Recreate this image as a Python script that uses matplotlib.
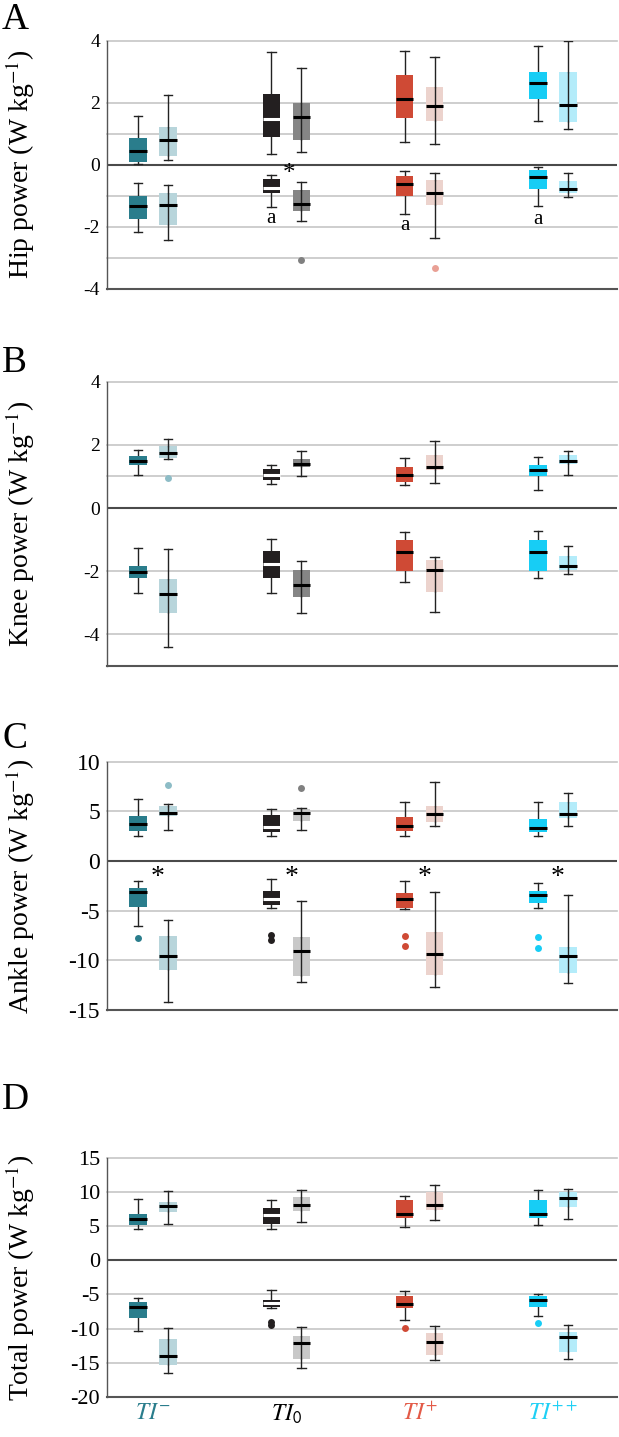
"""Joint power box plots (hip, knee, ankle, total) for the four TI groups."""

import matplotlib
matplotlib.use("Agg")
import matplotlib.pyplot as plt

plt.rcParams["font.family"] = ["Liberation Serif", "DejaVu Serif"]
plt.rcParams["mathtext.fontset"] = "stix"
plt.rcParams["axes.unicode_minus"] = False

GROUPS = ["TI-", "TI0", "TI+", "TI++"]
TICK_LABELS = [r"$TI^{-}$", r"$TI_{\mathsf{0}}$", r"$TI^{+}$", r"$TI^{++}$"]

# box stats per group: [whislo, q1, med, q3, whishi]
HIP_POS_DARK = [[0.02, 0.10, 0.43, 0.85, 1.58], [0.35, 0.88, 1.48, 2.27, 3.62],
                [0.72, 1.50, 2.13, 2.88, 3.65], [1.40, 2.10, 2.63, 3.00, 3.82]]
HIP_POS_LIGHT = [[0.15, 0.28, 0.78, 1.22, 2.25], [0.42, 0.80, 1.55, 2.00, 3.13],
                 [0.65, 1.40, 1.88, 2.50, 3.47], [1.15, 1.38, 1.92, 3.00, 4.00]]
HIP_NEG_DARK = [[-2.18, -1.75, -1.35, -1.00, -0.60], [-1.38, -0.92, -0.75, -0.45, -0.35],
                [-1.60, -1.00, -0.62, -0.38, -0.20], [-1.33, -0.80, -0.40, -0.18, -0.08]]
HIP_NEG_LIGHT = [[-2.43, -1.95, -1.30, -0.90, -0.65], [-1.82, -1.50, -1.27, -0.82, -0.57],
                 [-2.38, -1.30, -0.90, -0.50, -0.27], [-1.06, -0.90, -0.80, -0.52, -0.28]]
HIP_NEG_LIGHT_FLIERS = [[], [-3.06], [-3.32], []]

KNEE_POS_DARK = [[1.06, 1.36, 1.50, 1.65, 1.84], [0.75, 0.88, 1.06, 1.23, 1.37],
                 [0.72, 0.82, 1.06, 1.29, 1.60], [0.56, 1.00, 1.20, 1.37, 1.63]]
KNEE_POS_LIGHT = [[1.55, 1.60, 1.75, 1.95, 2.20], [1.02, 1.29, 1.41, 1.55, 1.80],
                  [0.80, 1.22, 1.31, 1.68, 2.13], [1.06, 1.39, 1.48, 1.69, 1.80]]
KNEE_POS_LIGHT_FLIERS = [[0.96], [], [], []]
KNEE_NEG_DARK = [[-2.68, -2.23, -2.03, -1.85, -1.28], [-2.70, -2.21, -1.79, -1.37, -0.98],
                 [-2.33, -2.00, -1.39, -1.01, -0.75], [-2.23, -2.00, -1.39, -1.00, -0.73]]
KNEE_NEG_LIGHT = [[-4.39, -3.34, -2.73, -2.24, -1.31], [-3.33, -2.82, -2.44, -1.95, -1.69],
                  [-3.29, -2.66, -1.97, -1.65, -1.55], [-2.10, -1.96, -1.83, -1.52, -1.19]]

ANKLE_POS_DARK = [[2.52, 3.05, 3.69, 4.53, 6.20], [2.50, 2.89, 3.46, 4.63, 5.20],
                  [2.50, 2.99, 3.52, 4.46, 5.90], [2.50, 2.90, 3.36, 4.19, 5.90]]
ANKLE_POS_LIGHT = [[3.15, 4.56, 4.87, 5.54, 5.74], [3.10, 4.06, 4.80, 5.20, 5.37],
                   [3.56, 3.93, 4.73, 5.57, 7.99], [3.52, 4.30, 4.77, 5.90, 6.88]]
ANKLE_POS_LIGHT_FLIERS = [[7.65], [7.35], [], []]
ANKLE_NEG_DARK = [[-6.54, -4.60, -3.12, -2.72, -2.01], [-4.77, -4.46, -3.80, -3.05, -1.78],
                  [-4.80, -4.70, -3.86, -3.26, -2.05], [-4.70, -4.19, -3.46, -2.99, -2.25]]
ANKLE_NEG_DARK_FLIERS = [[-7.79], [-7.45, -7.95], [-7.52, -8.56], [-7.65, -8.72]]
ANKLE_NEG_LIGHT = [[-14.23, -10.97, -9.53, -7.55, -5.94], [-12.21, -11.58, -9.03, -7.62, -4.03],
                   [-12.65, -11.44, -9.36, -7.11, -3.09], [-12.32, -11.24, -9.53, -8.62, -3.39]]

TOTAL_POS_DARK = [[4.55, 5.20, 6.00, 6.80, 9.00], [4.50, 5.25, 6.60, 7.60, 8.80],
                  [4.80, 6.20, 6.80, 8.80, 9.40], [5.10, 6.20, 6.80, 8.80, 10.30]]
TOTAL_POS_LIGHT = [[5.35, 7.10, 7.95, 8.50, 10.10], [5.55, 7.20, 8.00, 9.20, 10.30],
                   [5.90, 7.40, 8.10, 9.90, 11.00], [6.00, 7.80, 9.10, 9.90, 10.40]]
TOTAL_NEG_DARK = [[-10.30, -8.45, -6.80, -6.10, -5.60], [-7.05, -6.90, -6.30, -5.85, -4.30],
                  [-8.80, -7.05, -6.40, -5.25, -4.45], [-8.20, -6.90, -5.80, -5.25, -5.00]]
TOTAL_NEG_DARK_FLIERS = [[], [-9.0, -9.5], [-9.85], [-9.25]]
TOTAL_NEG_LIGHT = [[-16.50, -15.35, -14.05, -11.45, -9.85], [-15.80, -14.40, -12.15, -11.10, -9.70],
                   [-14.55, -13.80, -11.95, -10.65, -9.55], [-14.40, -13.45, -11.25, -10.50, -9.50]]

NONE4 = [[], [], [], []]

DARK = ["#2a7d8c", "#231f20", "#cf4a35", "#17cdf5"]
LIGHT = ["#b8d5db", "#858585", "#ecd3cd", "#b4ecfa"]
LIGHT_CD = ["#b8d5db", "#c8c8c8", "#ecd3cd", "#b4ecfa"]
LIGHT_FLIER = ["#8dbcc6", "#808080", "#e9a095", "#8fe3f7"]
MED_DARK = ["black", "white", "black", "black"]
LABEL_COLORS = ["#2a7d8c", "black", "#e35a47", "#1fd0f5"]
WHISK = "#222222"

BOX_W = 0.13
CAP_W = 0.065
OFFSET = 0.1125


def as_stats(rows, fliers):
    return [dict(whislo=r[0], q1=r[1], med=r[2], q3=r[3], whishi=r[4], fliers=f)
            for r, f in zip(rows, fliers)]


def draw(ax, rows, fliers, light, faces):
    for i, st in enumerate(as_stats(rows, fliers)):
        pos = i + 1 + (OFFSET if light else -OFFSET)
        fc = LIGHT_FLIER[i] if light else DARK[i]
        ax.bxp([st], positions=[pos], widths=BOX_W, capwidths=CAP_W,
               patch_artist=True, manage_ticks=False,
               boxprops=dict(facecolor=faces[i], edgecolor="none", lw=0,
                             zorder=2 if light else 3),
               whiskerprops=dict(color=WHISK, lw=1.0, zorder=2.5),
               capprops=dict(color=WHISK, lw=1.0, zorder=2.5),
               medianprops=dict(color="black" if light else MED_DARK[i], lw=2.2,
                                solid_capstyle="butt", zorder=5),
               flierprops=dict(marker="o", markersize=5, markerfacecolor=fc,
                               markeredgecolor="none"))
        if light:
            ax.vlines(pos, st["q1"], st["q3"], color=WHISK, lw=1.0, zorder=4)


fig = plt.figure(figsize=(6.19, 14.37), dpi=100)

panels = [
    dict(letter="A", rect=[0.1729, 0.7991, 0.8239, 0.1727], ylim=(-4, 4),
         ticks=[4, 2, 0, -2, -4], grid=[4, 2, 1, -1, -2, -3], tsize=14,
         label="Hip power (W kg$^{-1}$)", letter_y=1 - 20 / 1437, light=LIGHT,
         sets=[(HIP_POS_DARK, NONE4, False), (HIP_POS_LIGHT, NONE4, True),
               (HIP_NEG_DARK, NONE4, False), (HIP_NEG_LIGHT, HIP_NEG_LIGHT_FLIERS, True)]),
    dict(letter="B", rect=[0.1729, 0.5367, 0.8239, 0.1976], ylim=(-5, 4),
         ticks=[4, 2, 0, -2, -4], grid=[4, 2, 1, -2, -4], tsize=14,
         label="Knee power (W kg$^{-1}$)", letter_y=1 - 363 / 1437, light=LIGHT,
         sets=[(KNEE_POS_DARK, NONE4, False), (KNEE_POS_LIGHT, KNEE_POS_LIGHT_FLIERS, True),
               (KNEE_NEG_DARK, NONE4, False), (KNEE_NEG_LIGHT, NONE4, True)]),
    dict(letter="C", rect=[0.1729, 0.2971, 0.8239, 0.1728], ylim=(-15, 10),
         ticks=[10, 5, 0, -5, -10, -15], grid=[10, 5, -5, -10], tsize=17,
         label="Ankle power (W kg$^{-1}$)", letter_y=1 - 739 / 1437, light=LIGHT_CD,
         sets=[(ANKLE_POS_DARK, NONE4, False), (ANKLE_POS_LIGHT, ANKLE_POS_LIGHT_FLIERS, True),
               (ANKLE_NEG_DARK, ANKLE_NEG_DARK_FLIERS, False), (ANKLE_NEG_LIGHT, NONE4, True)]),
    dict(letter="D", rect=[0.1729, 0.0278, 0.8239, 0.1667], ylim=(-20, 15),
         ticks=[15, 10, 5, 0, -5, -10, -15, -20], grid=[15, 10, 5, -5, -10, -15], tsize=16,
         label="Total power (W kg$^{-1}$)", letter_y=1 - 1100 / 1437, light=LIGHT_CD,
         sets=[(TOTAL_POS_DARK, NONE4, False), (TOTAL_POS_LIGHT, NONE4, True),
               (TOTAL_NEG_DARK, TOTAL_NEG_DARK_FLIERS, False), (TOTAL_NEG_LIGHT, NONE4, True)]),
]

axes = []
for p in panels:
    ax = fig.add_axes(p["rect"])
    axes.append(ax)
    for rows, fl, light in p["sets"]:
        draw(ax, rows, fl, light, p["light"] if light else DARK)
    for g in p["grid"]:
        ax.axhline(g, color="#c6c6c6", lw=1.2, zorder=0, clip_on=False)
    ax.axhline(0, color="#4a4a4a", lw=1.5, zorder=1)
    ax.set_xlim(0.655, 4.48)
    ax.set_ylim(*p["ylim"])
    ax.set_yticks(p["ticks"])
    ax.set_yticklabels([str(t) for t in p["ticks"]])
    ax.tick_params(axis="y", length=0, pad=5, labelsize=p["tsize"])
    ax.set_xticks([])
    for s in ("top", "right"):
        ax.spines[s].set_visible(False)
    ax.spines["left"].set_color("#555555")
    ax.spines["left"].set_linewidth(1.0)
    ax.spines["bottom"].set_color("#555555")
    ax.spines["bottom"].set_linewidth(1.5)
    ax.set_ylabel(p["label"], fontsize=20)
    ax.yaxis.set_label_coords(-0.137, 0.5)
    fig.text(2 / 619, p["letter_y"], p["letter"], fontsize=27, ha="left", va="center")

# significance marks
ax_a, ax_c, ax_d = axes[0], axes[2], axes[3]
ax_a.text(2 - OFFSET + 0.135, -0.3, "*", fontsize=18, ha="center", va="center")
A_MARK_X = [2, 3, 4]
A_MARK_Y = [-1.75, -1.97, -1.77]
for gx, gy in zip(A_MARK_X, A_MARK_Y):
    ax_a.text(gx - OFFSET, gy, "a", fontsize=15, ha="center", va="center")
for gx in range(1, 5):
    ax_c.text(gx - OFFSET + 0.15, -1.7, "*", fontsize=20, ha="center", va="center")

ax_d.set_xticks(range(1, 5))
ax_d.set_xticklabels(TICK_LABELS, fontsize=17)
ax_d.tick_params(axis="x", length=0, pad=4)
for lab, c in zip(ax_d.get_xticklabels(), LABEL_COLORS):
    lab.set_color(c)

fig.savefig("out.png", dpi=100)
